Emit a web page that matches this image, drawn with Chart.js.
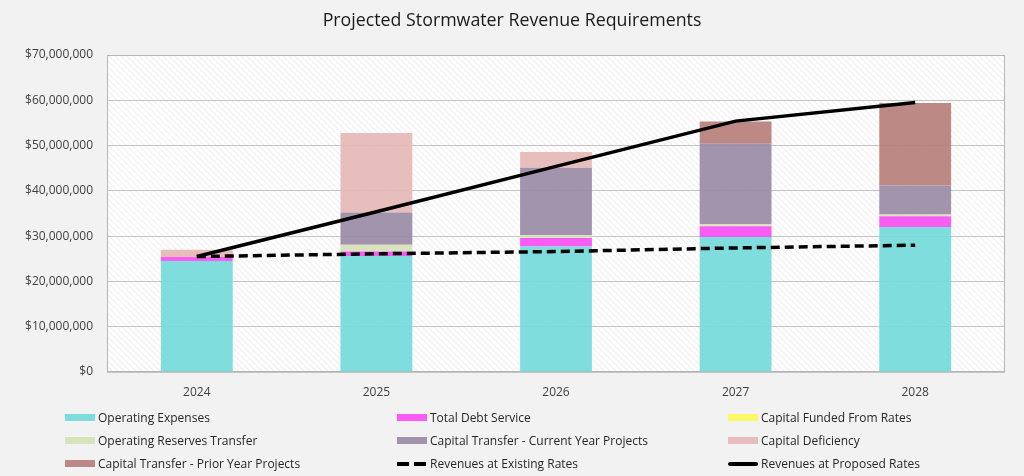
<!DOCTYPE html>
<html><head><meta charset="utf-8">
<script src="https://cdn.jsdelivr.net/npm/chart.js@4.4.1/dist/chart.umd.min.js"></script>
<style>
html,body{margin:0;padding:0;background:#f2f2f2;}
#wrap{position:relative;width:1024px;height:476px;overflow:hidden;background:#f2f2f2;}
#c{position:absolute;left:0;top:0;}
#title{position:absolute;left:0;width:1024px;top:7px;text-align:center;font-family:"Open Sans",sans-serif;font-size:17.8px;color:#1a1a1a;}
#legend{position:absolute;left:0;top:409px;width:1024px;height:66px;font-family:"Open Sans",sans-serif;font-size:12px;color:#262626;}
.li{position:absolute;height:16px;line-height:16px;white-space:nowrap;}
.sw{display:inline-block;vertical-align:middle;width:30px;height:7px;margin-right:3px;position:relative;top:-1px;}
</style></head>
<body><div id="wrap"><canvas id="c" width="1024" height="476"></canvas><div id="title">Projected Stormwater Revenue Requirements</div><div id="legend"></div></div>
<script>
const years = ['2024','2025','2026','2027','2028'];
const operatingExpenses = [24500000, 25600000, 27700000, 29800000, 32000000];
const totalDebtService = [900000, 1000000, 1900000, 2400000, 2400000];
const capitalFundedFromRates = [0, 0, 0, 0, 0];
const operatingReservesTransfer = [0, 1500000, 600000, 400000, 400000];
const capitalTransferCurrent = [0, 7100000, 14900000, 17800000, 6400000];
const capitalDeficiency = [1600000, 17600000, 3500000, 0, 0];
const capitalTransferPrior = [0, 0, 0, 4900000, 18200000];
const revenuesExisting = [25500000, 26100000, 26600000, 27400000, 28000000];
const revenuesProposed = [25500000, 35400000, 45400000, 55400000, 59500000];
const yTicks = [0,10000000,20000000,30000000,40000000,50000000,60000000,70000000];

const barDefs = [
 ['Operating Expenses', operatingExpenses, 'rgba(118,218,218,0.93)'],
 ['Total Debt Service', totalDebtService, 'rgba(250,80,245,0.93)'],
 ['Capital Funded From Rates', capitalFundedFromRates, 'rgba(250,250,90,0.93)'],
 ['Operating Reserves Transfer', operatingReservesTransfer, 'rgba(212,226,184,0.93)'],
 ['Capital Transfer - Current Year Projects', capitalTransferCurrent, 'rgba(156,140,168,0.93)'],
 ['Capital Deficiency', capitalDeficiency, 'rgba(230,185,184,0.93)'],
 ['Capital Transfer - Prior Year Projects', capitalTransferPrior, 'rgba(184,128,124,0.93)']
];
const datasets = [];
datasets.push({type:'line',label:'Revenues at Existing Rates',data:revenuesExisting,borderColor:'#000',borderWidth:3.5,borderDash:[9,5],pointRadius:0,fill:false,order:0,stack:'l1'});
datasets.push({type:'line',label:'Revenues at Proposed Rates',data:revenuesProposed,borderColor:'#000',borderWidth:3.5,pointRadius:0,fill:false,order:0,stack:'l2'});
barDefs.forEach(d=>datasets.push({type:'bar',label:d[0],data:d[1],backgroundColor:d[2],borderWidth:0,stack:'s',order:1,categoryPercentage:1,barPercentage:0.4}));

const hatch = {
 id:'hatch',
 beforeDraw(chart){
  const {ctx,chartArea:a} = chart;
  ctx.save();
  ctx.fillStyle='#ffffff';
  ctx.fillRect(a.left,a.top,a.right-a.left,a.bottom-a.top);
  ctx.beginPath();ctx.rect(a.left,a.top,a.right-a.left,a.bottom-a.top);ctx.clip();
  ctx.strokeStyle='#f0f0f0';ctx.lineWidth=1.2;
  const h=a.bottom-a.top;
  for(let x=a.left-h; x<a.right+h; x+=6){
   ctx.beginPath();ctx.moveTo(x,a.top);ctx.lineTo(x+h,a.bottom);ctx.stroke();
  }
  ctx.restore();
 }
};
const border = {
 id:'border',
 beforeDatasetsDraw(chart){
  const {ctx,chartArea:a} = chart;
  ctx.save();ctx.strokeStyle='#b5b5b5';ctx.lineWidth=1;
  ctx.strokeRect(a.left+0.5,a.top+0.5,a.right-a.left-1,a.bottom-a.top-1);
  ctx.restore();
 }
};

new Chart(document.getElementById('c'),{
 data:{labels:years,datasets},
 plugins:[hatch,border],
 options:{
  responsive:false,animation:false,
  layout:{padding:{top:55,right:19,bottom:74,left:0}},
  plugins:{legend:{display:false},title:{display:false},tooltip:{enabled:false}},
  scales:{
   x:{stacked:true,grid:{display:false},border:{display:false},
      ticks:{color:'#404040',font:{family:'Open Sans',size:12},padding:5},
      afterFit(s){s.height=30;}},
   y:{stacked:true,min:0,max:70000000,
      afterBuildTicks(s){s.ticks=yTicks.map(v=>({value:v}));},
      grid:{color:'#c4c4c4',lineWidth:1,drawTicks:false},border:{display:false},
      ticks:{color:'#404040',font:{family:'Open Sans',size:12},padding:14,
        callback:v=>'$'+v.toLocaleString('en-US')},
      afterFit(s){s.width=107;}}
  }
 }
});

const legendItems = [
 ['Operating Expenses','box',barDefs[0][2]],
 ['Total Debt Service','box',barDefs[1][2]],
 ['Capital Funded From Rates','box',barDefs[2][2]],
 ['Operating Reserves Transfer','box',barDefs[3][2]],
 ['Capital Transfer - Current Year Projects','box',barDefs[4][2]],
 ['Capital Deficiency','box',barDefs[5][2]],
 ['Capital Transfer - Prior Year Projects','box',barDefs[6][2]],
 ['Revenues at Existing Rates','dash','#000'],
 ['Revenues at Proposed Rates','line','#000']
];
const colX=[65,397,728], rowY=[1,24,47];
const lg=document.getElementById('legend');
legendItems.forEach((it,i)=>{
 const d=document.createElement('div');d.className='li';
 d.style.left=colX[i%3]+'px';d.style.top=rowY[Math.floor(i/3)]+'px';
 const s=document.createElement('span');s.className='sw';
 if(it[1]==='box'){s.style.background=it[2];}
 else if(it[1]==='dash'){s.style.height='4px';s.style.background='repeating-linear-gradient(90deg,#000 0 12px,transparent 12px 17px)';}
 else {s.style.height='4px';s.style.background='#000';s.style.borderRadius='2px';}
 d.appendChild(s);d.appendChild(document.createTextNode(it[0]));lg.appendChild(d);
});
</script></body></html>
